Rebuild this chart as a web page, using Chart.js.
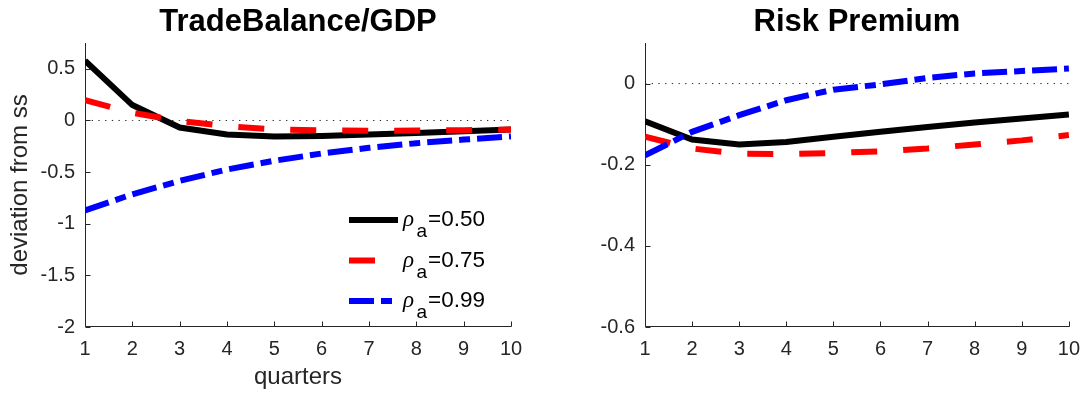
<!DOCTYPE html>
<html>
<head>
<meta charset="utf-8">
<script src="https://cdn.jsdelivr.net/npm/chart.js@4.4.1/dist/chart.umd.min.js"></script>
<style>
  html, body { margin: 0; padding: 0; background: #ffffff; }
  #wrap { position: relative; width: 1090px; height: 396px; overflow: hidden; }
  .panel { position: absolute; top: 0; width: 545px; height: 396px; }
</style>
</head>
<body>
<div id="wrap">
  <div class="panel" style="left:0"><canvas id="tradeBalance" width="545" height="396"></canvas></div>
  <div class="panel" style="left:545px"><canvas id="riskPremium" width="545" height="396"></canvas></div>
</div>
<script>
// Horizon (quarters after the shock)
const quarters = [1, 2, 3, 4, 5, 6, 7, 8, 9, 10];
const rhoLabels = ['0.50', '0.75', '0.99'];

// Trade balance / GDP responses, deviation from steady state
const tbRho050 = [0.578, 0.149, -0.068, -0.136, -0.155, -0.150, -0.137, -0.122, -0.105, -0.088];
const tbRho075 = [0.197, 0.074, -0.006, -0.055, -0.087, -0.097, -0.100, -0.098, -0.094, -0.087];
const tbRho099 = [-0.870, -0.715, -0.585, -0.475, -0.390, -0.320, -0.265, -0.220, -0.185, -0.155];

// Risk premium responses, deviation from steady state
const rpRho050 = [-0.093, -0.138, -0.150, -0.144, -0.131, -0.119, -0.107, -0.096, -0.086, -0.076];
const rpRho075 = [-0.131, -0.160, -0.173, -0.174, -0.171, -0.167, -0.160, -0.150, -0.140, -0.127];
const rpRho099 = [-0.177, -0.119, -0.078, -0.041, -0.015, -0.002, 0.014, 0.025, 0.031, 0.037];

// Steady-state reference line
const steadyState = [0, 0, 0, 0, 0, 0, 0, 0, 0, 0];

// Axis ticks
const xTicks = [1, 2, 3, 4, 5, 6, 7, 8, 9, 10];
const xTickLabels = ['1', '2', '3', '4', '5', '6', '7', '8', '9', '10'];
const tbTicks = [-2, -1.5, -1, -0.5, 0, 0.5];
const tbTickLabels = ['-2', '-1.5', '-1', '-0.5', '0', '0.5'];
const rpTicks = [-0.6, -0.4, -0.2, 0];
const rpTickLabels = ['-0.6', '-0.4', '-0.2', '0'];

const SANS = '"Liberation Sans", Arial, Helvetica, sans-serif';
Chart.defaults.font.family = SANS;

const seriesStyles = [
  { color: '#000000', dash: [] },
  { color: '#ff0000', dash: [26, 26] },
  { color: '#0000ff', dash: [25, 7, 11, 7] }
];

function points(values) {
  return quarters.map((q, i) => ({ x: q, y: values[i] }));
}

function buildDatasets(seriesList) {
  const sets = seriesList.map((vals, i) => ({
    label: '\u03C1a=' + rhoLabels[i],
    data: points(vals),
    borderColor: seriesStyles[i].color,
    borderDash: seriesStyles[i].dash,
    borderWidth: 6,
    borderCapStyle: 'butt',
    pointRadius: 0,
    tension: 0,
    fill: false,
    order: 3 - i,
    rhoText: rhoLabels[i]
  }));
  sets.push({
    label: 'ss',
    data: points(steadyState),
    borderColor: '#222222',
    borderDash: [1.3, 5.4],
    borderWidth: 1,
    pointRadius: 0,
    tension: 0,
    fill: false,
    order: 10
  });
  return sets;
}

// Left and bottom axis lines with inward tick marks
const boxOffAxes = {
  id: 'boxOffAxes',
  beforeDatasetsDraw(chart) {
    const { ctx, chartArea: a, scales: { x, y } } = chart;
    const L = Math.round(a.left) + 0.5;
    const B = Math.round(a.bottom) - 0.5;
    ctx.save();
    ctx.strokeStyle = '#262626';
    ctx.lineWidth = 1;
    ctx.setLineDash([]);
    ctx.beginPath();
    ctx.moveTo(L, Math.round(a.top));
    ctx.lineTo(L, B);
    ctx.lineTo(Math.round(a.right) + 0.5, B);
    x.ticks.forEach(t => {
      const px = Math.round(x.getPixelForValue(t.value)) + 0.5;
      ctx.moveTo(px, B);
      ctx.lineTo(px, B - 5);
    });
    y.ticks.forEach(t => {
      const py = Math.round(y.getPixelForValue(t.value)) + 0.5;
      ctx.moveTo(L, py);
      ctx.lineTo(L + 5, py);
    });
    ctx.stroke();
    ctx.restore();
  }
};

// Legend with the Greek symbol and subscript
const rhoLegend = {
  id: 'rhoLegend',
  afterDraw(chart, args, opts) {
    if (!opts || !opts.show) return;
    const { ctx, chartArea: a } = chart;
    const x0 = a.right - 162, x1 = a.right - 113;
    let row = 0;
    chart.data.datasets.forEach(ds => {
      if (!ds.rhoText) return;
      const y = a.top + 177 + row * 40.5;
      row++;
      ctx.save();
      ctx.strokeStyle = ds.borderColor;
      ctx.lineWidth = ds.borderWidth;
      ctx.lineCap = 'butt';
      ctx.setLineDash(ds.borderDash);
      ctx.beginPath();
      ctx.moveTo(x0, y);
      ctx.lineTo(x1, y);
      ctx.stroke();
      ctx.restore();

      ctx.save();
      ctx.fillStyle = '#000000';
      ctx.textBaseline = 'alphabetic';
      ctx.textAlign = 'left';
      ctx.font = 'italic 23px "Liberation Serif", "DejaVu Serif", serif';
      ctx.fillText('\u03C1', a.right - 108, y + 6);
      ctx.font = '19px ' + SANS;
      ctx.fillText('a', a.right - 94.5, y + 17);
      ctx.font = '22.5px ' + SANS;
      ctx.fillText('=' + ds.rhoText, a.right - 83, y + 6);
      ctx.restore();
    });
  }
};

function makeChart(canvasId, title, seriesList, yMin, yMax, yTicks, yTickLabels, opts) {
  return new Chart(document.getElementById(canvasId), {
    type: 'line',
    data: { datasets: buildDatasets(seriesList) },
    plugins: [boxOffAxes, rhoLegend],
    options: {
      responsive: false,
      animation: false,
      devicePixelRatio: 1,
      layout: { padding: { left: 0, right: opts.padRight, top: 0, bottom: 0 } },
      plugins: {
        legend: { display: false },
        tooltip: { enabled: false },
        title: {
          display: true,
          text: title,
          fullSize: false,
          color: '#000000',
          font: { size: 31, weight: 'bold', family: SANS },
          padding: { top: 3.4, bottom: 2.4 }
        },
        rhoLegend: { show: opts.legend }
      },
      scales: {
        x: {
          type: 'linear',
          min: 1,
          max: 10,
          afterBuildTicks: s => { s.ticks = xTicks.map(v => ({ value: v })); },
          afterFit: s => { s.height = 69; },
          grid: { display: false, drawTicks: false },
          border: { display: false },
          ticks: {
            padding: 10,
            color: '#262626',
            font: { size: 20 },
            maxRotation: 0,
            autoSkip: false,
            callback: (v, i) => xTickLabels[i]
          },
          title: {
            display: opts.xTitle,
            text: 'quarters',
            color: '#262626',
            font: { size: 24 },
            padding: { top: 0, bottom: 4.6 }
          }
        },
        y: {
          type: 'linear',
          min: yMin,
          max: yMax,
          afterBuildTicks: s => { s.ticks = yTicks.map(v => ({ value: v })); },
          afterFit: s => { s.width = opts.yWidth; },
          grid: { display: false, drawTicks: false },
          border: { display: false },
          ticks: {
            padding: 10,
            color: '#262626',
            font: { size: 20 },
            autoSkip: false,
            callback: (v, i) => yTickLabels[i]
          },
          title: {
            display: opts.yTitle,
            text: 'deviation from ss',
            color: '#262626',
            font: { size: 24 },
            padding: { top: 5.6, bottom: 0 }
          }
        }
      }
    }
  });
}

makeChart('tradeBalance', 'TradeBalance/GDP', [tbRho050, tbRho075, tbRho099],
  -2, 0.75, tbTicks, tbTickLabels,
  { padRight: 34, yWidth: 85, xTitle: true, yTitle: true, legend: true });

makeChart('riskPremium', 'Risk Premium', [rpRho050, rpRho075, rpRho099],
  -0.6, 0.1, rpTicks, rpTickLabels,
  { padRight: 19, yWidth: 100, xTitle: false, yTitle: false, legend: false });
</script>
</body>
</html>
